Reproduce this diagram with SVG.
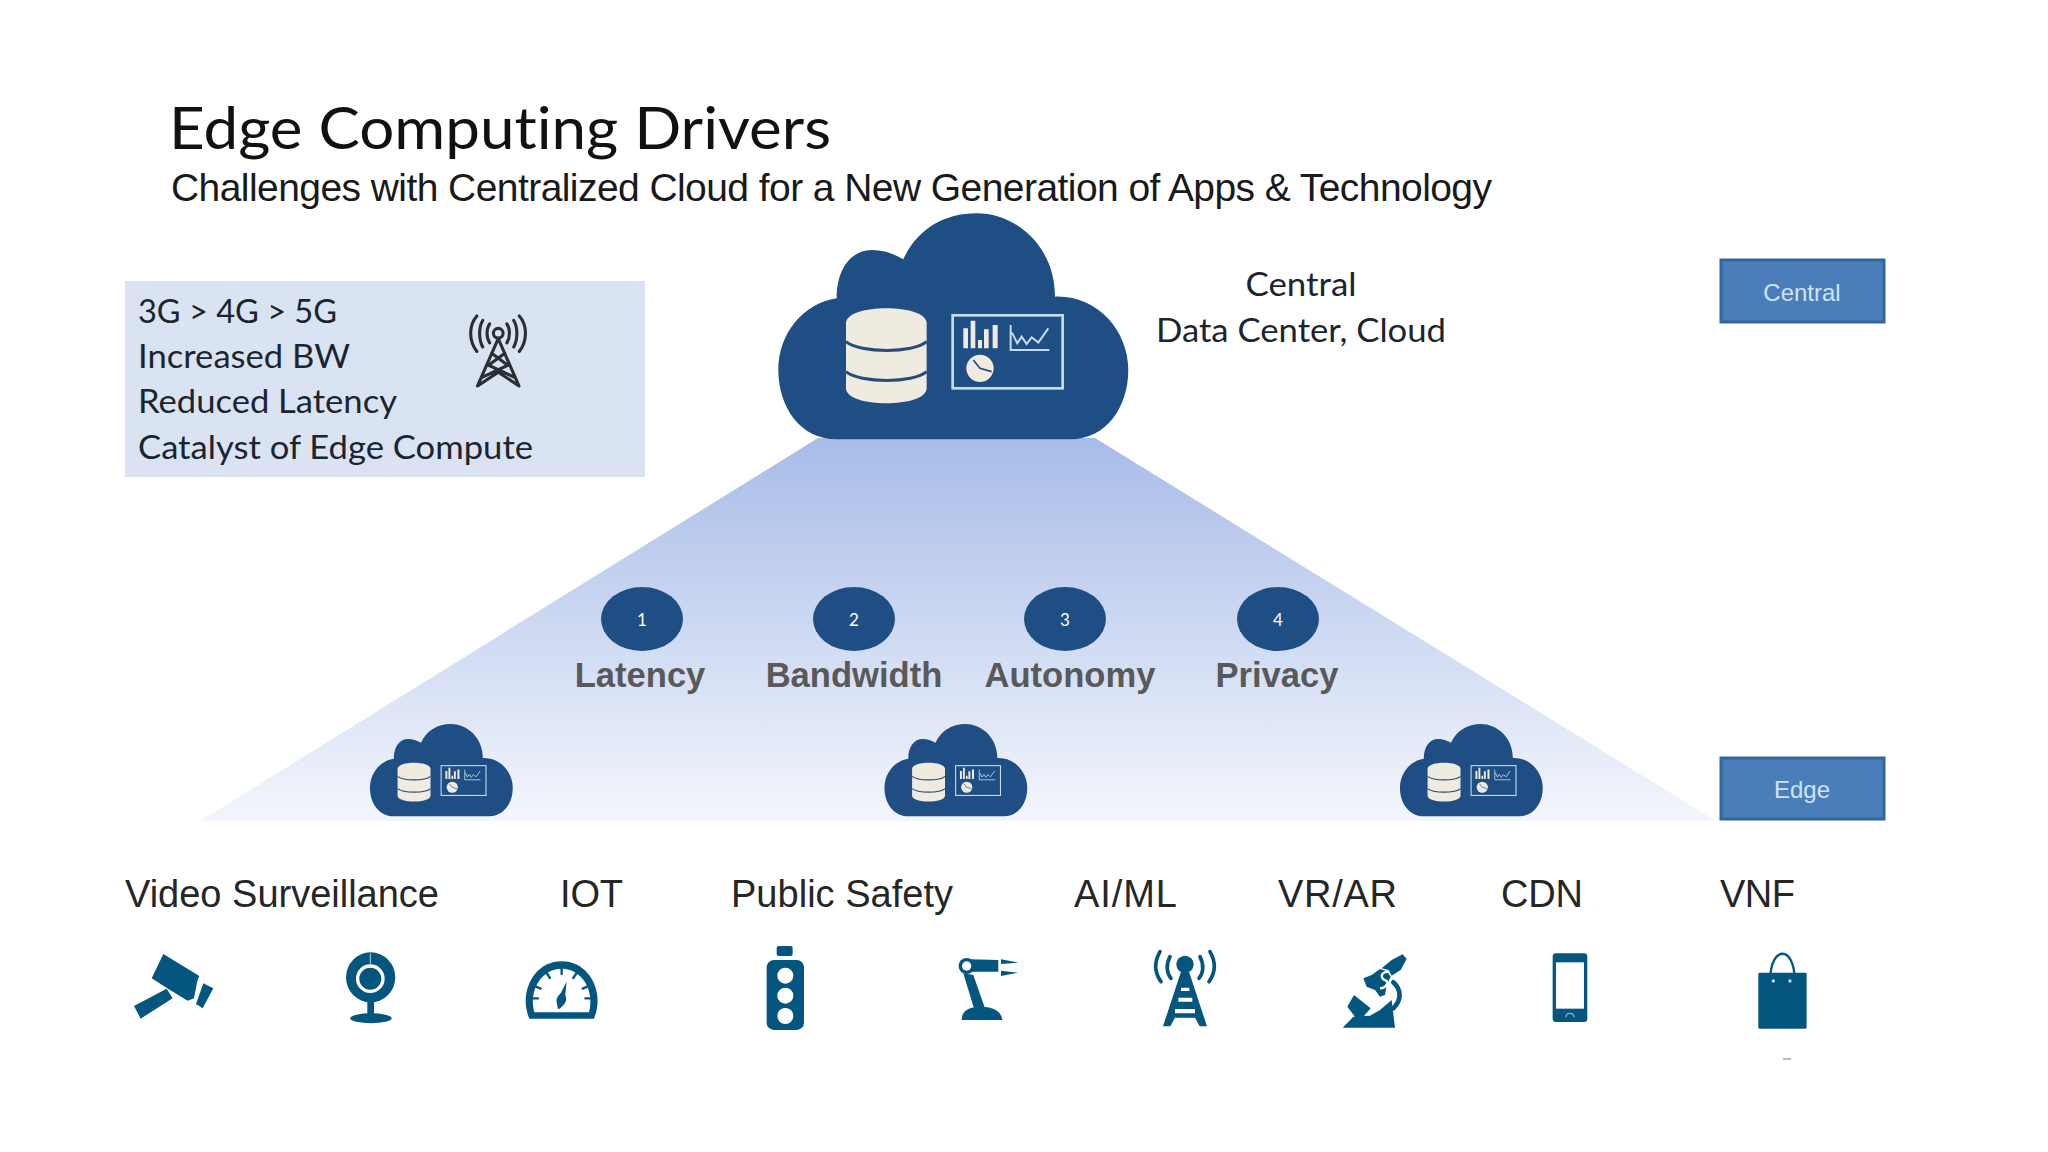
<svg xmlns="http://www.w3.org/2000/svg" width="2048" height="1152" viewBox="0 0 2048 1152">
<style>
.lato{font-family:"Lato","Open Sans",sans-serif;font-variant-ligatures:none}
.sans{font-family:"Liberation Sans",Arial,sans-serif}
.box{font-size:33px;fill:#1b2530}
.drv{font-size:34.6px;font-weight:bold;fill:#595959;text-anchor:middle}
.num{font-size:17px;fill:#fff;text-anchor:middle}
.cat{font-size:38px;fill:#262626}
.tag{font-size:24px;fill:#cfe4f7;text-anchor:middle}
.tagbox{fill:#4a7ebb;stroke:#34659c;stroke-width:3}
.icon{fill:#04567f}
.iconl{fill:none;stroke:#04567f;stroke-linecap:round}
.circ{fill:#1f4e85}
</style>
<defs>
<linearGradient id="fade" x1="0" y1="0" x2="0" y2="1">
<stop offset="0" stop-color="#a8bce8"/><stop offset="1" stop-color="#f3f6fc"/>
</linearGradient>
<g id="cloud">
<path fill="#1f4e85" d="M230 718H930C1040 718 1105 620 1105 510C1105 390 1010 285 885 290C885 140 770 40 650 40C550 40 470 90 430 178C400 160 370 150 335 150C275 150 230 205 230 295C130 310 55 400 55 510C55 620 120 718 230 718Z"/>
<path fill="#efebe0" d="M258 370C258 310 500 310 500 370V565C500 625 258 625 258 565Z"/>
<path fill="none" stroke="#2a4a78" stroke-width="9" d="M258 425C300 460 460 460 500 425M258 515C300 550 460 550 500 515"/>
<rect x="578" y="346" width="330" height="219" fill="none" stroke="#c6dcf2" stroke-width="8"/>
<path fill="#efebe0" d="M610 385h14v60h-14zM632 362h14v83h-14zM654 420h12v25h-12zM672 388h14v57h-14zM698 375h15v70h-15z"/>
<path fill="none" stroke="#c6dcf2" stroke-width="6" d="M752 375V450H868M756 398L772 430L785 410L800 432L815 412L835 428L865 385"/>
<circle cx="660" cy="505" r="41" fill="#efebe0"/>
<path fill="none" stroke="#1f4e85" stroke-width="5" d="M640 480L660 505L695 515"/>
</g>
</defs>
<rect width="2048" height="1152" fill="#fff"/>

<text id="title" class="lato" x="169" y="149" font-size="59" fill="#111" textLength="662" lengthAdjust="spacingAndGlyphs">Edge Computing Drivers</text>
<text id="subtitle" class="sans" x="171" y="201" font-size="39" fill="#1a1a1a" textLength="1321" lengthAdjust="spacing">Challenges with Centralized Cloud for a New Generation of Apps &amp; Technology</text>

<path id="wedge" fill="url(#fade)" d="M818 438H1095L1716 821H200Z"/>

<g id="central-cloud"><use href="#cloud" transform="translate(760 200) scale(.3333)"/></g>
<g id="edge-cloud-1"><use href="#cloud" transform="translate(362.5 718.6) scale(.136)"/></g>
<g id="edge-cloud-2"><use href="#cloud" transform="translate(877 718.6) scale(.136)"/></g>
<g id="edge-cloud-3"><use href="#cloud" transform="translate(1392.5 718.6) scale(.136)"/></g>

<g id="info-box">
<rect x="125" y="281" width="520" height="196" fill="#dae3f1"/>
<text class="lato box" x="138" y="323" textLength="199" lengthAdjust="spacingAndGlyphs">3G &gt; 4G &gt; 5G</text>
<text class="lato box" x="138" y="368" textLength="212" lengthAdjust="spacingAndGlyphs">Increased BW</text>
<text class="lato box" x="138" y="413" textLength="259" lengthAdjust="spacingAndGlyphs">Reduced Latency</text>
<text class="lato box" x="138" y="459" textLength="395" lengthAdjust="spacingAndGlyphs">Catalyst of Edge Compute</text>
<g transform="translate(120 267) scale(.3448)" fill="none" stroke="#2a2f36" stroke-width="9" stroke-linecap="round">
<circle cx="1097" cy="192" r="14"/>
<path d="M1072 165C1062 180 1062 205 1072 220M1122 165C1132 180 1132 205 1122 220M1052 155C1040 175 1040 210 1052 232M1142 155C1154 175 1154 210 1142 232M1035 142C1010 170 1012 215 1035 245M1158 142C1183 170 1181 215 1158 245"/>
<path d="M1097 208L1037 345M1097 208L1157 345M1078 250L1125 285L1050 320M1116 250L1069 285L1144 320M1037 345L1097 305L1157 345"/>
</g>
</g>

<g id="central-label">
<text class="lato" x="1301" y="296" font-size="33" fill="#1b2530" text-anchor="middle" textLength="111" lengthAdjust="spacingAndGlyphs">Central</text>
<text class="lato" x="1301" y="342" font-size="33" fill="#1b2530" text-anchor="middle" textLength="290" lengthAdjust="spacingAndGlyphs">Data Center, Cloud</text>
</g>

<g id="tag-central"><rect class="tagbox" x="1721" y="260" width="163" height="62"/><text class="sans tag" x="1802" y="301">Central</text></g>
<g id="tag-edge"><rect class="tagbox" x="1721" y="758" width="163" height="61"/><text class="sans tag" x="1802" y="798">Edge</text></g>

<g id="driver-1"><ellipse class="circ" cx="642" cy="619" rx="41" ry="32"/><text class="lato num" x="642" y="626">1</text><text class="sans drv" x="640" y="687">Latency</text></g>
<g id="driver-2"><ellipse class="circ" cx="854" cy="619" rx="41" ry="32"/><text class="lato num" x="854" y="626">2</text><text class="sans drv" x="854" y="687">Bandwidth</text></g>
<g id="driver-3"><ellipse class="circ" cx="1065" cy="619" rx="41" ry="32"/><text class="lato num" x="1065" y="626">3</text><text class="sans drv" x="1070" y="687">Autonomy</text></g>
<g id="driver-4"><ellipse class="circ" cx="1278" cy="619" rx="41" ry="32"/><text class="lato num" x="1278" y="626">4</text><text class="sans drv" x="1277" y="687">Privacy</text></g>

<g id="categories" class="sans">
<text class="cat" x="125" y="907" textLength="314" lengthAdjust="spacing">Video Surveillance</text>
<text class="cat" x="560" y="907" textLength="63" lengthAdjust="spacing">IOT</text>
<text class="cat" x="731" y="907" textLength="222" lengthAdjust="spacing">Public Safety</text>
<text class="cat" x="1074" y="907" textLength="103" lengthAdjust="spacing">AI/ML</text>
<text class="cat" x="1278" y="907" textLength="119" lengthAdjust="spacing">VR/AR</text>
<text class="cat" x="1501" y="907" textLength="82" lengthAdjust="spacing">CDN</text>
<text class="cat" x="1720" y="907" textLength="75" lengthAdjust="spacing">VNF</text>
</g>

<g id="icon-camera" transform="translate(120 930) scale(.3333)">
<path class="icon" d="M130 72L238 138L232 152L222 205L203 212L150 180L95 145ZM250 160L280 175L248 235L228 222ZM140 176L42 228L62 266L158 205Z"/>
</g>
<g id="icon-webcam" transform="translate(120 930) scale(.3333)">
<ellipse class="icon" cx="752" cy="142" rx="74" ry="75"/>
<circle cx="751" cy="146" r="38" fill="none" stroke="#fff" stroke-width="10"/>
<path d="M751 70V105" stroke="#bcd3df" stroke-width="3"/>
<path class="icon" d="M742 205h20v50h-20z"/>
<ellipse class="icon" cx="753" cy="265" rx="62" ry="15"/>
</g>
<g id="icon-gauge" transform="translate(120 930) scale(.3333)">
<path class="icon" d="M1228 266C1195 190 1240 94 1325 94C1410 94 1455 190 1422 266Z"/>
<path fill="#fff" d="M1243 247C1225 180 1265 116 1325 116C1385 116 1425 180 1407 247Z"/>
<path class="iconl" stroke-width="7" d="M1325 116V132M1281 130L1290 144M1369 130L1360 144M1248 170L1262 176M1402 170L1388 176M1238 205H1254M1412 205H1396"/>
<path class="icon" d="M1340 155L1336 195C1345 215 1330 225 1320 236L1313 236C1315 222 1300 210 1322 190Z"/>
</g>
<g id="icon-traffic" transform="translate(740 930) scale(.3333)">
<rect class="icon" x="110" y="48" width="48" height="30" rx="6"/>
<rect class="icon" x="80" y="90" width="112" height="210" rx="22"/>
<circle cx="136" cy="137" r="24" fill="#fff"/><circle cx="136" cy="197" r="24" fill="#fff"/><circle cx="136" cy="258" r="24" fill="#fff"/>
</g>
<g id="icon-robot" transform="translate(740 930) scale(.3333)">
<path class="icon" d="M665 270C665 240 690 230 725 230C760 230 785 245 787 270ZM670 130L700 135L735 235H702ZM690 88L775 90V125L690 125ZM783 88L835 98L783 102ZM783 122L835 128L783 138Z"/>
<circle class="icon" cx="680" cy="108" r="24"/><circle cx="680" cy="108" r="14" fill="#fff"/>
</g>
<g id="icon-tower" transform="translate(1145 945) scale(.3333)">
<circle class="icon" cx="120" cy="58" r="26"/>
<path class="iconl" stroke-width="11" d="M75 35C62 60 65 85 78 100M165 35C178 60 175 85 162 100M45 20C25 55 30 85 48 110M195 20C215 55 210 85 192 110"/>
<path class="icon" d="M108 80H132L186 244H164L150 218H90L76 244H54Z"/>
<path fill="#fff" d="M108 128h25v10h-25zM100 158h42v12h-42zM90 192h60v13h-60z"/>
</g>
<g id="icon-microscope" transform="translate(1330 945) scale(.3333)">
<path class="icon" d="M218 28L230 42L212 75L185 92L175 75L155 70L185 45ZM100 100L125 90L150 72L170 78L182 95L170 120L165 150L150 155L135 135L110 125ZM72 150L122 190L100 215L75 215L52 185ZM38 248L70 215L120 212L150 195L185 165L195 248Z"/>
<path class="iconl" stroke-width="14" d="M190 112C215 135 215 165 190 190"/>
<path fill="none" stroke="#fff" stroke-width="7" d="M178 80C150 80 150 100 168 107C180 113 165 130 150 130"/>
</g>
<g id="icon-phone" transform="translate(1320 930) scale(.3333)">
<rect class="icon" x="698" y="70" width="104" height="206" rx="10"/>
<rect x="708" y="97" width="84" height="139" fill="#fff"/>
<path d="M738 262C738 246 762 246 762 262" fill="none" stroke="#8fb3c8" stroke-width="4"/>
</g>
<g id="icon-bag" transform="translate(1320 930) scale(.3333)">
<rect class="icon" x="1315" y="128" width="145" height="168" rx="4"/>
<path class="iconl" stroke-width="7" d="M1351 150C1351 45 1424 45 1424 150"/>
<circle cx="1360" cy="153" r="5" fill="#cfe0ea"/><circle cx="1410" cy="153" r="5" fill="#cfe0ea"/>
</g>
<path id="speck" d="M1783 1059h8" stroke="#bbb" stroke-width="2"/>
</svg>
